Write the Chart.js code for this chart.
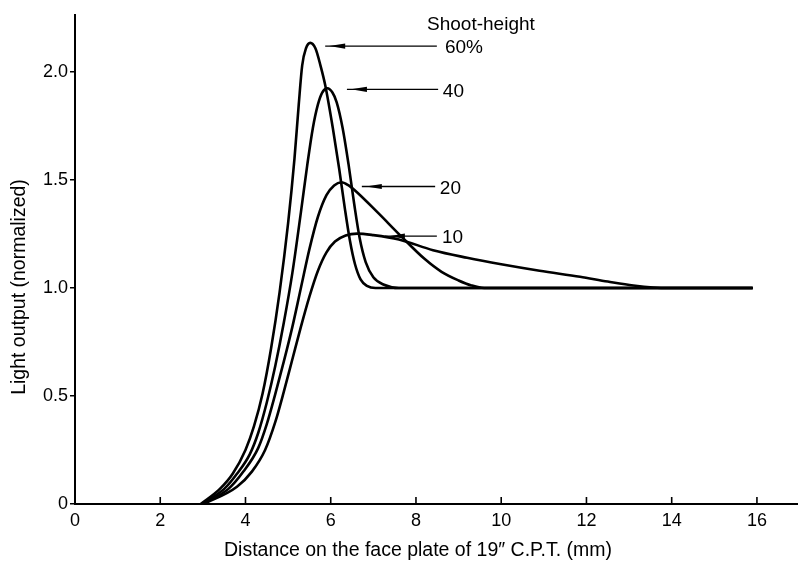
<!DOCTYPE html>
<html>
<head>
<meta charset="utf-8">
<script src="https://cdn.jsdelivr.net/npm/chart.js@4.4.1/dist/chart.umd.min.js"></script>
<style>
    html, body { margin: 0; padding: 0; background: #fff; }
    #wrap { width: 798px; height: 566px; }
</style>
</head>
<body>
<div id="wrap"><canvas id="lightChart"></canvas></div>
<script>
// Light output vs distance
const x60 = [2.95, 3.40, 3.70, 4.00, 4.20, 4.40, 4.60, 4.80, 5.00, 5.15, 5.25, 5.33, 5.42, 5.52, 5.64, 5.76, 5.87, 6.05, 6.20, 6.33, 6.45, 6.57, 6.70, 6.85, 7.05, 15.9];
const y60 = [0, 0.07, 0.14, 0.25, 0.36, 0.51, 0.72, 0.98, 1.30, 1.60, 1.85, 2.03, 2.11, 2.135, 2.11, 2.03, 1.94, 1.74, 1.55, 1.37, 1.22, 1.11, 1.04, 1.01, 1.0, 1.0];

const x40 = [2.97, 3.50, 3.80, 4.10, 4.30, 4.50, 4.70, 4.90, 5.10, 5.30, 5.45, 5.58, 5.70, 5.80, 5.92, 6.04, 6.14, 6.28, 6.42, 6.55, 6.68, 6.82, 7.00, 7.25, 7.60, 15.9];
const y40 = [0, 0.07, 0.14, 0.23, 0.33, 0.47, 0.64, 0.84, 1.07, 1.35, 1.57, 1.74, 1.85, 1.905, 1.925, 1.905, 1.86, 1.74, 1.57, 1.39, 1.23, 1.12, 1.05, 1.015, 1.0, 1.0];

const x20 = [2.99, 3.60, 3.95, 4.30, 4.50, 4.70, 4.90, 5.10, 5.30, 5.50, 5.70, 5.90, 6.08, 6.25, 6.42, 6.55, 7.10, 7.65, 8.20, 8.60, 9.00, 9.30, 9.60, 15.9];
const y20 = [0, 0.07, 0.15, 0.26, 0.37, 0.51, 0.66, 0.82, 1.0, 1.18, 1.33, 1.43, 1.475, 1.49, 1.475, 1.455, 1.35, 1.24, 1.135, 1.075, 1.035, 1.012, 1.0, 1.0];

const x10 = [3.02, 3.80, 4.15, 4.46, 4.70, 4.90, 5.10, 5.30, 5.50, 5.70, 5.90, 6.10, 6.35, 6.62, 7.00, 7.60, 8.40, 9.20, 10.0, 10.9, 11.85, 12.5, 13.1, 13.9, 15.9];
const y10 = [0, 0.08, 0.15, 0.25, 0.38, 0.52, 0.67, 0.82, 0.96, 1.08, 1.165, 1.215, 1.243, 1.252, 1.245, 1.225, 1.175, 1.14, 1.11, 1.08, 1.052, 1.03, 1.012, 1.0, 1.0];

const xTicks = [0, 2, 4, 6, 8, 10, 12, 14, 16];
const yTicks = [0, 0.5, 1.0, 1.5, 2.0];
const yTickLabels = ['0', '0.5', '1.0', '1.5', '2.0'];

// arrow labels (data coordinates)
const seriesLabels = ['60%', '40', '20', '10'];
const arrowY = [2.12, 1.92, 1.47, 1.24];
const arrowTipX = [5.87, 6.38, 6.73, 7.27];
const arrowTailX = [8.49, 8.52, 8.45, 8.49];
const labelX = [8.68, 8.63, 8.56, 8.61];

const FONT = '"Liberation Sans", Arial, Helvetica, sans-serif';

function toPoints(xs, ys) {
    return xs.map((x, i) => ({ x: x, y: ys[i] }));
}

function makeSet(label, xs, ys) {
    return {
        label: label,
        data: toPoints(xs, ys),
        borderColor: '#000',
        borderWidth: 2.6,
        pointRadius: 0,
        fill: false,
        cubicInterpolationMode: 'monotone'
    };
}

// inward x ticks, arrows, labels and axis titles
const decorations = {
    id: 'decorations',
    afterDraw(chart) {
        const ctx = chart.ctx;
        const xs = chart.scales.x;
        const ys = chart.scales.y;
        const area = chart.chartArea;

        ctx.save();
        ctx.strokeStyle = '#000';
        ctx.lineWidth = 1.6;
        xTicks.forEach(v => {
            if (v === 0) return;
            const px = xs.getPixelForValue(v);
            ctx.beginPath();
            ctx.moveTo(px, area.bottom);
            ctx.lineTo(px, area.bottom - 7);
            ctx.stroke();
        });

        ctx.fillStyle = '#000';
        ctx.font = '19px ' + FONT;
        ctx.textBaseline = 'middle';
        ctx.textAlign = 'left';

        seriesLabels.forEach((txt, i) => {
            const py = ys.getPixelForValue(arrowY[i]);
            const tip = xs.getPixelForValue(arrowTipX[i]);
            const tail = xs.getPixelForValue(arrowTailX[i]);
            ctx.lineWidth = 1.3;
            ctx.beginPath();
            ctx.moveTo(tip, py);
            ctx.lineTo(tail, py);
            ctx.stroke();
            ctx.beginPath();
            ctx.moveTo(tip + 4, py);
            ctx.lineTo(tip + 20, py - 2.6);
            ctx.lineTo(tip + 20, py + 2.6);
            ctx.closePath();
            ctx.fill();
            ctx.fillText(txt, xs.getPixelForValue(labelX[i]), py + 2);
        });

        ctx.fillText('Shoot-height', xs.getPixelForValue(8.26), ys.getPixelForValue(2.218));

        // axis titles
        ctx.font = '19.5px ' + FONT;
        ctx.textAlign = 'center';
        ctx.fillText('Distance on the face plate of 19\u2033 C.P.T. (mm)', 418, 551);
        ctx.translate(20, 287);
        ctx.rotate(-Math.PI / 2);
        ctx.fillText('Light output (normalized)', 0, 0);
        ctx.restore();
    }
};

new Chart(document.getElementById('lightChart'), {
    type: 'line',
    data: {
        datasets: [
            makeSet('60%', x60, y60),
            makeSet('40', x40, y40),
            makeSet('20', x20, y20),
            makeSet('10', x10, y10)
        ]
    },
    options: {
        responsive: true,
        maintainAspectRatio: false,
        animation: false,
        layout: { padding: { top: 15, right: 1, left: 0, bottom: 0 } },
        plugins: {
            legend: { display: false },
            tooltip: { enabled: false }
        },
        scales: {
            x: {
                type: 'linear',
                min: 0,
                max: 16.94,
                afterFit: scale => { scale.height = 62; },
                afterBuildTicks: scale => { scale.ticks = xTicks.map(v => ({ value: v })); },
                border: { display: true, color: '#000', width: 2 },
                grid: { display: false, drawTicks: false },
                ticks: {
                    color: '#000',
                    padding: 6,
                    maxRotation: 0,
                    autoSkip: false,
                    font: { family: FONT, size: 18 },
                    callback: v => String(v)
                }
            },
            y: {
                type: 'linear',
                min: 0,
                max: 2.264,
                afterFit: scale => { scale.width = 75; },
                afterBuildTicks: scale => { scale.ticks = yTicks.map(v => ({ value: v })); },
                border: { display: true, color: '#000', width: 2 },
                grid: {
                    drawOnChartArea: false,
                    drawTicks: true,
                    tickLength: 5,
                    color: '#000',
                    lineWidth: 1.5
                },
                ticks: {
                    color: '#000',
                    padding: 2,
                    autoSkip: false,
                    font: { family: FONT, size: 18 },
                    callback: v => yTickLabels[yTicks.indexOf(v)]
                }
            }
        }
    },
    plugins: [decorations]
});
</script>
</body>
</html>
